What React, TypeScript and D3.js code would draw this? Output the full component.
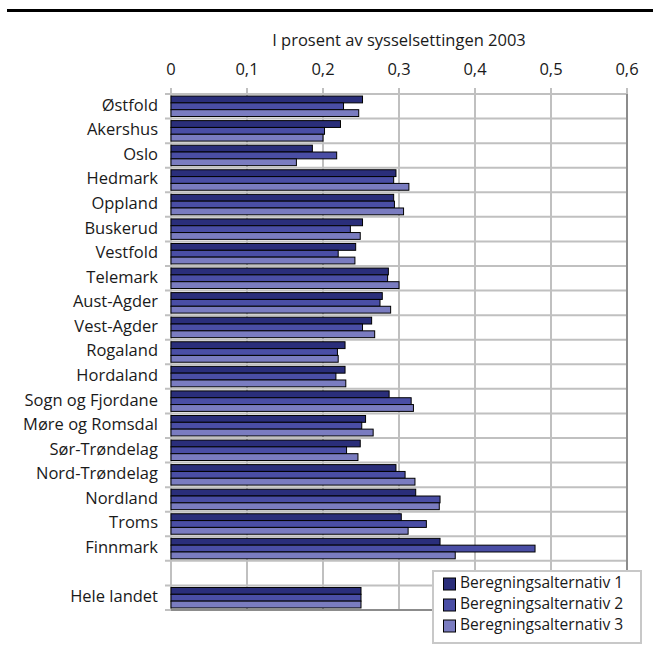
import React from "react";
import * as d3 from "d3";

const regions = [
  "Østfold", "Akershus", "Oslo", "Hedmark", "Oppland", "Buskerud", "Vestfold",
  "Telemark", "Aust-Agder", "Vest-Agder", "Rogaland", "Hordaland",
  "Sogn og Fjordane", "Møre og Romsdal", "Sør-Trøndelag", "Nord-Trøndelag",
  "Nordland", "Troms", "Finnmark", "", "Hele landet",
];
const seriesNames = ["Beregningsalternativ 1", "Beregningsalternativ 2", "Beregningsalternativ 3"];
const alt1 = [0.252, 0.223, 0.186, 0.296, 0.293, 0.252, 0.243, 0.286, 0.278, 0.264, 0.229, 0.229, 0.287, 0.256, 0.249, 0.296, 0.322, 0.303, 0.354, NaN, 0.250];
const alt2 = [0.227, 0.202, 0.218, 0.293, 0.294, 0.236, 0.220, 0.285, 0.275, 0.252, 0.219, 0.217, 0.316, 0.251, 0.231, 0.308, 0.354, 0.336, 0.479, NaN, 0.250];
const alt3 = [0.247, 0.200, 0.165, 0.313, 0.306, 0.249, 0.242, 0.300, 0.289, 0.268, 0.220, 0.230, 0.319, 0.266, 0.246, 0.321, 0.353, 0.312, 0.374, NaN, 0.250];
const xTicks = [0, 0.1, 0.2, 0.3, 0.4, 0.5, 0.6];
const axisTitle = "I prosent av sysselsettingen 2003";

const colors = ["#2a2e7a", "#4a4ea5", "#7a7cc0"];
const FONT = "'Open Sans', sans-serif";
const FS = 16.5;
const LFS = 15.6;

export default function App() {
  const W = 660, H = 647;
  const left = 171, right = 627, top = 94, bottom = 610;
  const x = d3.scaleLinear().domain([0, 0.6]).range([left, right]);
  const y = d3.scaleBand<string>().domain(regions.map((r, i) => String(i))).range([top, bottom]).padding(0);
  const step = y.step();
  const sub = d3.scaleBand<number>().domain([0, 1, 2]).range([0, step]).paddingInner(0).paddingOuter(0.3);
  const series = [alt1, alt2, alt3];
  const fmt = (v: number) => (v === 0 ? "0" : d3.format(".1f")(v).replace(".", ","));
  const boundaries = d3.range(regions.length + 1).map((i) => top + i * step);

  return (
    <svg width={W} height={H} style={{ position: "absolute", left: 0, top: 0 }} fontFamily={FONT}>
      <rect x={0} y={0} width={W} height={H} fill="#fff" />
      <line x1={7} x2={653} y1={10.5} y2={10.5} stroke="#000" strokeWidth={3} />
      <text x={(left + right) / 2} y={42} textAnchor="middle" dominantBaseline="middle" fontSize={FS} fill="#1a1a1a">
        {axisTitle}
      </text>
      {xTicks.map((t) => (
        <text key={"tl" + t} x={x(t)} y={71} textAnchor="middle" dominantBaseline="middle" fontSize={FS} fill="#1a1a1a">
          {fmt(t)}
        </text>
      ))}
      {xTicks.map((t) => (
        <line key={"vg" + t} x1={x(t)} x2={x(t)} y1={88} y2={t === 0.6 ? top : bottom} stroke="#c0c0c0" strokeWidth={2} />
      ))}
      {boundaries.slice(0, -1).map((b, i) => (
        <line key={"hg" + i} x1={165} x2={right} y1={b} y2={b} stroke="#c0c0c0" strokeWidth={2} />
      ))}
      <line x1={165} x2={left} y1={bottom} y2={bottom} stroke="#c0c0c0" strokeWidth={2} />
      <line x1={right} x2={right} y1={top} y2={bottom + 1} stroke="#8c8c8c" strokeWidth={2} />
      <line x1={left} x2={right} y1={bottom} y2={bottom} stroke="#8c8c8c" strokeWidth={2} />
      {regions.map((r, i) =>
        series.map((s, k) =>
          isNaN(s[i]) ? null : (
            <rect
              key={r + k}
              x={x(0)}
              y={(y(String(i)) as number) + (sub(k) as number)}
              width={x(s[i]) - x(0)}
              height={sub.bandwidth()}
              fill={colors[k]}
              stroke="#000"
              strokeWidth={1}
            />
          )
        )
      )}
      {regions.map((r, i) => (
        <text key={"cl" + i} x={158} y={(y(String(i)) as number) + step / 2} textAnchor="end" dominantBaseline="middle" fontSize={FS} fill="#1a1a1a">
          {r}
        </text>
      ))}
      <rect x={433} y={571} width={208} height={72} fill="#fff" stroke="#c8c8c8" strokeWidth={2} />
      {seriesNames.map((n, k) => (
        <g key={n}>
          <rect x={443.5} y={578 + k * 21} width={12} height={12} fill={colors[k]} stroke="#000" strokeWidth={1} />
          <text x={460} y={584 + k * 21} dominantBaseline="middle" fontSize={LFS} fill="#1a1a1a">
            {n}
          </text>
        </g>
      ))}
    </svg>
  );
}
